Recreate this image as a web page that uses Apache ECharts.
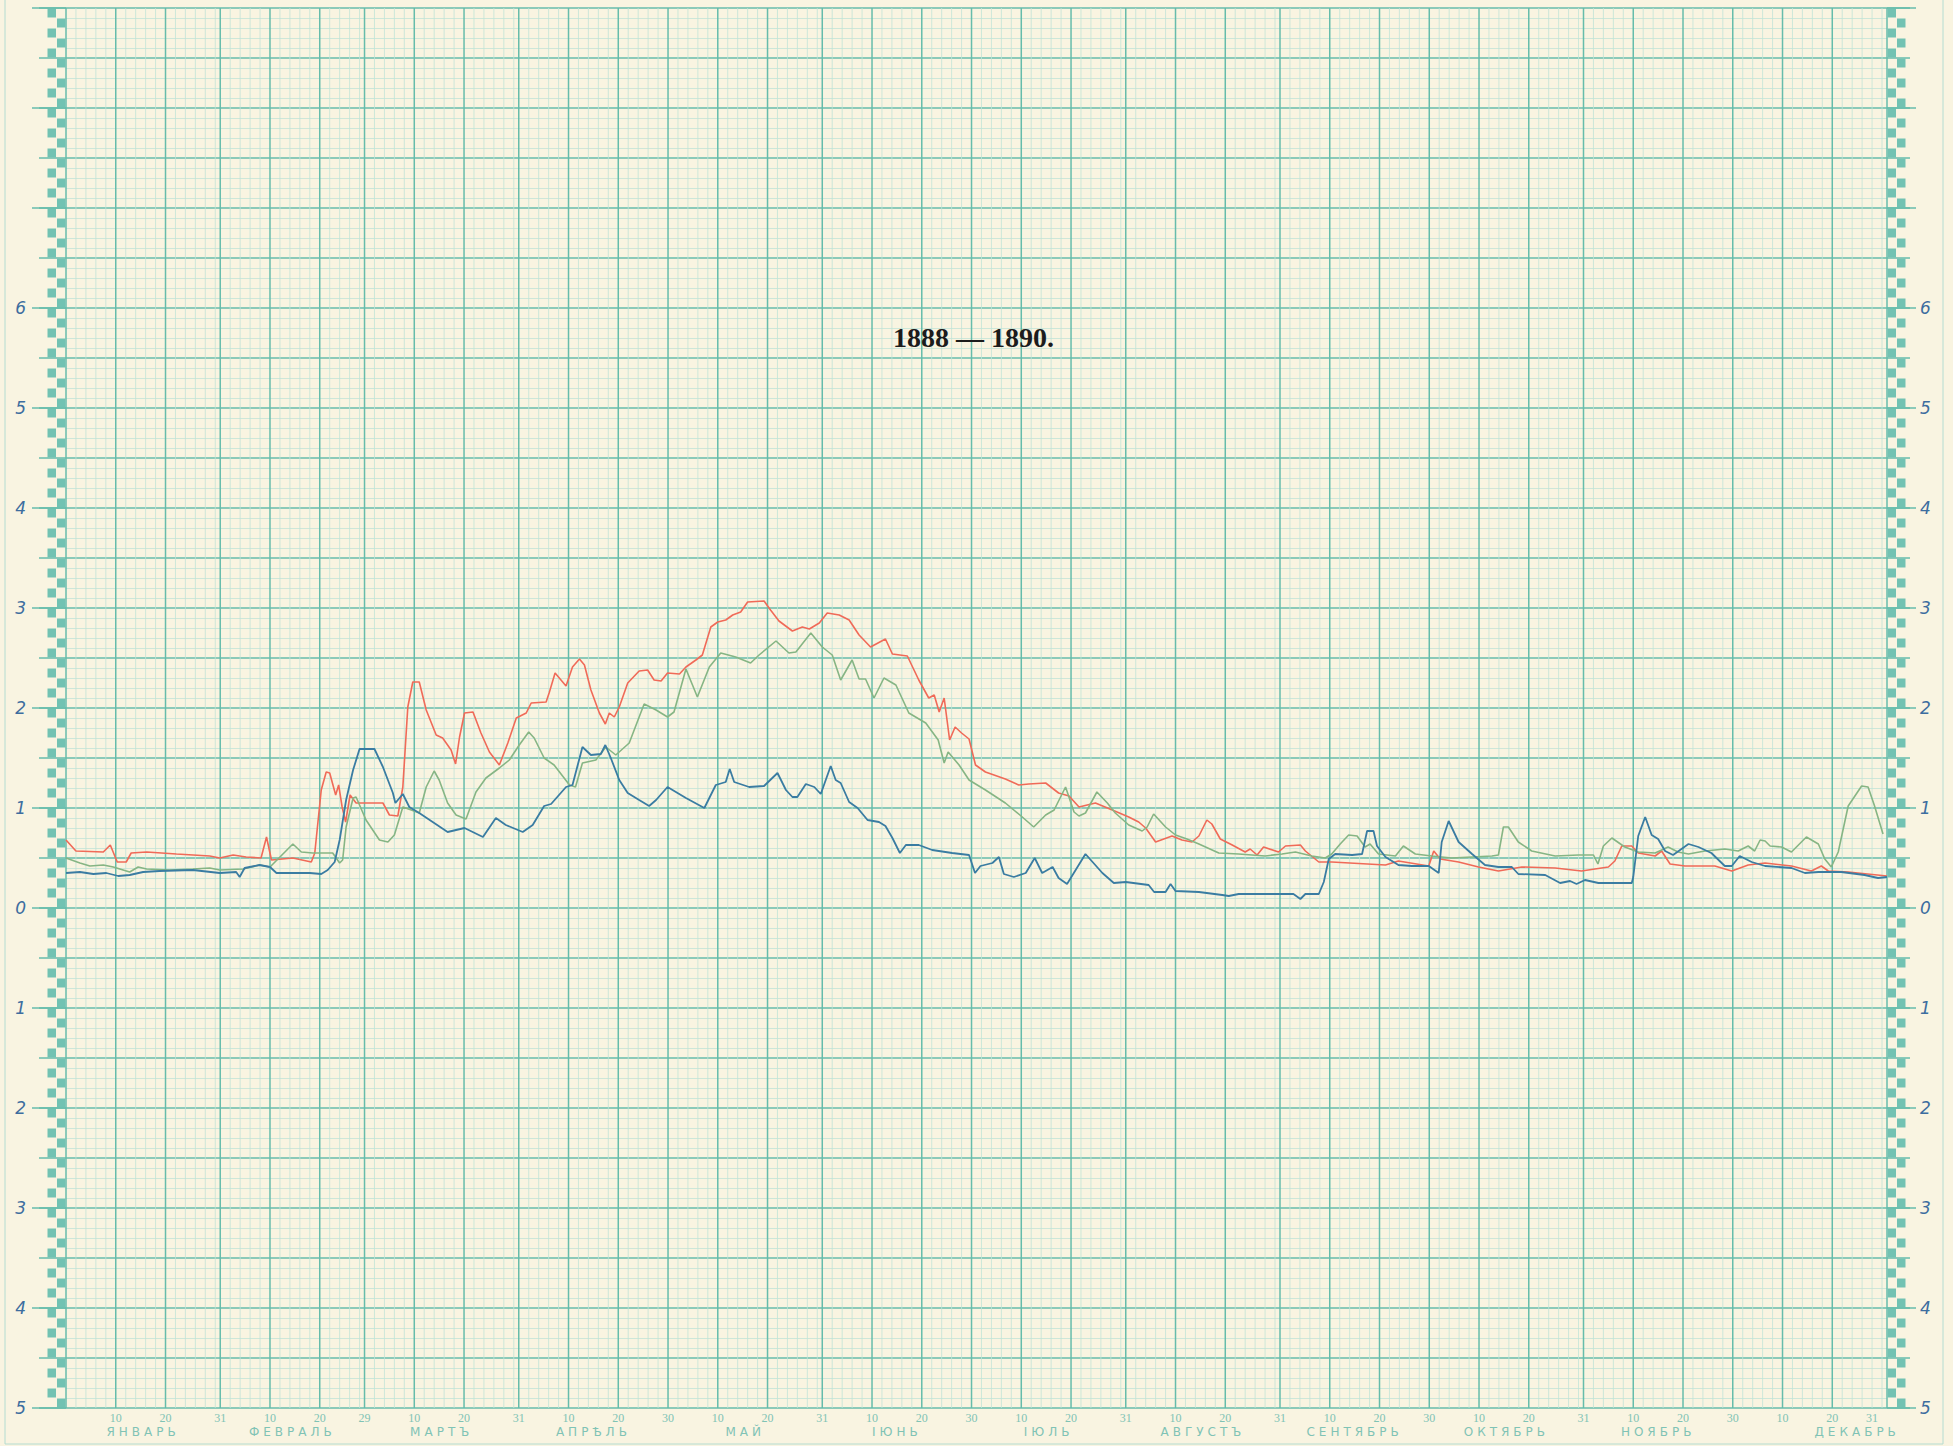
<!DOCTYPE html>
<html><head><meta charset="utf-8">
<script src="https://cdn.jsdelivr.net/npm/echarts@6/dist/echarts.min.js"></script>
<style>html,body{margin:0;padding:0;background:#f9f4e1;}#c{width:1953px;height:1446px;}</style>
</head><body><div id="c"></div>
<script>
// ---- data ----
const titleText = '1888 — 1890.';
const monthNames = ['ЯНВАРЬ','ФЕВРАЛЬ','МАРТЪ','АПРѢЛЬ','МАЙ','ІЮНЬ','ІЮЛЬ','АВГУСТЪ','СЕНТЯБРЬ','ОКТЯБРЬ','НОЯБРЬ','ДЕКАБРЬ'];
const monthLengths = [31,29,31,30,31,30,31,31,30,31,30,31];
const Y_MIN = -5, Y_MAX = 9, Y_LABEL_MAX = 6;

const redSeries = [[0,0.68],[2,0.57],[7.5,0.56],[8.9,0.63],[10.3,0.46],[12.1,0.46],[13.1,0.55],[16.2,0.56],[22.2,0.54],[28.9,0.52],[30.9,0.50],[33.6,0.53],[36.2,0.51],[39.2,0.50],[40.3,0.71],[41.3,0.48],[45.6,0.50],[49.3,0.46],[50,0.55],[51.3,1.18],[52.3,1.36],[53,1.35],[54.2,1.13],[54.8,1.23],[55.5,1.01],[56.2,0.86],[57.1,1.13],[58.3,1.05],[63.7,1.05],[65,0.93],[66.7,0.92],[67.7,1.21],[68.7,2.01],[69.7,2.26],[71,2.26],[72.4,1.98],[74.4,1.73],[75.7,1.70],[77.4,1.58],[78.3,1.44],[79.1,1.71],[80.1,1.95],[81.8,1.96],[83.4,1.75],[85.1,1.56],[87.1,1.43],[88.8,1.65],[90.5,1.90],[92.5,1.95],[93.5,2.05],[96.5,2.06],[97.1,2.15],[98.3,2.35],[100.5,2.22],[101.8,2.41],[103.2,2.49],[104.2,2.43],[105.5,2.18],[107.2,1.95],[108.4,1.84],[109.2,1.95],[110.2,1.91],[111.2,2.01],[112.9,2.25],[115.2,2.37],[116.9,2.38],[118.2,2.28],[119.6,2.27],[120.9,2.35],[123.3,2.34],[124.6,2.41],[126.6,2.48],[127.9,2.53],[129.6,2.81],[131,2.86],[132.6,2.88],[134,2.93],[135.6,2.96],[137,3.06],[140.3,3.07],[141.6,2.98],[143.3,2.87],[146,2.77],[148,2.81],[149.4,2.79],[151.4,2.85],[153,2.95],[155.4,2.93],[157.4,2.88],[159.4,2.73],[161.7,2.61],[164.7,2.69],[166.1,2.54],[169.1,2.52],[171.4,2.28],[173.4,2.10],[174.5,2.13],[175.5,1.96],[176.5,2.10],[177.6,1.68],[178.7,1.81],[180,1.75],[181.5,1.69],[182.8,1.43],[184.8,1.36],[188.8,1.29],[191.5,1.23],[193.5,1.24],[196.9,1.25],[199.5,1.15],[201.6,1.12],[203.6,1.01],[206.9,1.05],[210.3,0.98],[213.6,0.91],[215.6,0.86],[217,0.80],[219,0.66],[222.3,0.72],[224.3,0.68],[226.3,0.66],[227.7,0.72],[229.3,0.88],[230.3,0.84],[232,0.69],[234.4,0.63],[237,0.56],[238,0.59],[239.4,0.53],[240.7,0.61],[243.7,0.56],[245.1,0.62],[248.1,0.63],[249.1,0.57],[251.8,0.46],[254.4,0.46],[265.2,0.43],[267.8,0.47],[273.9,0.42],[274.9,0.57],[276.2,0.49],[279.9,0.46],[283.9,0.41],[287.9,0.37],[292.6,0.41],[299.3,0.40],[304.6,0.37],[310,0.41],[311.3,0.47],[312.7,0.62],[314.7,0.62],[316,0.55],[319.4,0.52],[320.7,0.57],[322.4,0.44],[325.4,0.42],[331.4,0.42],[334.8,0.37],[338.1,0.43],[341.5,0.45],[346.8,0.42],[350.8,0.37],[352.8,0.42],[354.2,0.37],[358.2,0.36],[366,0.32]];

const greenSeries = [[0,0.50],[2.8,0.45],[4.8,0.42],[7.5,0.43],[9.5,0.41],[12.8,0.36],[14.5,0.41],[16.2,0.39],[20.8,0.38],[25.5,0.39],[28.9,0.40],[30.9,0.38],[35.6,0.39],[38.9,0.43],[41,0.41],[43,0.51],[45.6,0.64],[47.3,0.56],[49.6,0.55],[51.6,0.55],[53.6,0.55],[55,0.45],[55.6,0.48],[56.3,0.81],[57.7,1.10],[58.3,1.11],[60.3,0.88],[63,0.68],[64.7,0.66],[66,0.73],[67.7,1.01],[69.4,0.98],[71,0.95],[72.4,1.21],[74,1.37],[75,1.28],[76.7,1.05],[78.4,0.93],[80.4,0.89],[82.4,1.16],[84.4,1.30],[87.1,1.40],[89.1,1.48],[91.1,1.63],[93,1.76],[94.1,1.70],[96.1,1.50],[98.1,1.43],[101.2,1.23],[102.4,1.21],[103.8,1.45],[106.5,1.48],[108.5,1.61],[110.5,1.53],[113.2,1.65],[116.2,2.04],[118.6,1.98],[120.9,1.91],[122.2,1.96],[124.6,2.39],[126.9,2.11],[129.3,2.41],[131.6,2.55],[134.6,2.51],[137.6,2.45],[139.3,2.53],[142.7,2.67],[145.3,2.55],[146.7,2.56],[149.7,2.75],[152,2.61],[154,2.53],[155.7,2.28],[158,2.48],[159.4,2.29],[160.7,2.29],[162.4,2.10],[164.4,2.30],[166.8,2.23],[169.4,1.95],[172.8,1.85],[175.3,1.68],[176.5,1.45],[177.3,1.56],[179.5,1.43],[181.5,1.28],[184.8,1.18],[188.8,1.05],[192.2,0.91],[194.5,0.81],[196.9,0.93],[198.6,0.98],[200.9,1.21],[202.6,0.96],[203.6,0.92],[204.9,0.95],[207.2,1.16],[209.3,1.05],[210.9,0.95],[213.6,0.83],[216.3,0.77],[217.3,0.81],[218.6,0.94],[221,0.81],[223,0.73],[225.3,0.69],[227.7,0.64],[231.7,0.55],[235.7,0.54],[241,0.52],[244.4,0.54],[247.1,0.56],[250.4,0.52],[253.1,0.50],[254.4,0.54],[256.1,0.64],[257.8,0.73],[259.5,0.72],[261.1,0.61],[262.1,0.64],[263.8,0.54],[267.2,0.52],[268.8,0.62],[271.2,0.54],[274.5,0.52],[278.5,0.50],[282.6,0.51],[286.6,0.52],[287.9,0.53],[288.9,0.81],[289.9,0.81],[291.9,0.66],[294.6,0.57],[299.3,0.52],[304,0.53],[307,0.53],[307.9,0.44],[309,0.62],[310.7,0.70],[313.3,0.61],[316,0.56],[319.4,0.55],[322,0.61],[324,0.56],[326.1,0.54],[329.4,0.57],[333.4,0.59],[336.1,0.57],[338.1,0.62],[339.4,0.57],[340.5,0.68],[341.5,0.67],[342.5,0.62],[344.8,0.61],[346.8,0.56],[349.8,0.71],[352.2,0.64],[353.5,0.49],[354.8,0.41],[356.2,0.56],[358.2,1.02],[360.9,1.22],[362.2,1.21],[363.5,1.02],[365.2,0.74]];

const blueSeries = [[0,0.35],[2.8,0.36],[5.5,0.34],[8.1,0.35],[10.5,0.32],[12.8,0.33],[15.5,0.36],[18.8,0.37],[25.5,0.38],[30.9,0.35],[34.2,0.36],[34.9,0.31],[35.9,0.40],[38.9,0.43],[41,0.41],[42.3,0.35],[45.6,0.35],[49,0.35],[51.3,0.34],[52.6,0.38],[54,0.46],[55,0.68],[56.3,1.08],[57.7,1.38],[59,1.59],[62,1.59],[63.7,1.41],[65.7,1.15],[66.2,1.05],[67.7,1.14],[69,1.01],[71,0.95],[73.7,0.86],[76.7,0.76],[80.1,0.80],[83.8,0.71],[86.4,0.90],[88.4,0.83],[91.8,0.76],[93.8,0.83],[96.1,1.02],[97.5,1.04],[100.5,1.21],[101.8,1.23],[103.8,1.61],[105.5,1.53],[107.5,1.54],[108.4,1.63],[109.5,1.50],[111.2,1.28],[112.9,1.15],[115.2,1.08],[117.2,1.02],[118.6,1.08],[120.9,1.21],[124.6,1.10],[128.3,1.00],[130.6,1.23],[132.6,1.26],[133.4,1.39],[134.3,1.26],[137.3,1.21],[140.3,1.22],[143,1.35],[144.7,1.18],[146,1.11],[147,1.11],[148.7,1.24],[150.4,1.21],[151.7,1.14],[153.7,1.42],[154.7,1.28],[155.7,1.25],[157.4,1.06],[159.1,1.00],[161.1,0.88],[163.4,0.86],[164.7,0.82],[166.1,0.70],[167.6,0.55],[168.8,0.63],[171.4,0.63],[174.1,0.58],[178.1,0.55],[181.5,0.53],[182.7,0.35],[183.8,0.42],[186.2,0.45],[187.5,0.51],[188.5,0.34],[190.5,0.31],[192.9,0.35],[194.7,0.50],[196.2,0.35],[198.3,0.41],[199.5,0.30],[201.2,0.24],[204.9,0.54],[208.3,0.35],[210.6,0.25],[213,0.26],[217.6,0.23],[218.7,0.16],[221,0.16],[222,0.24],[223,0.17],[227.7,0.16],[232.4,0.13],[233.7,0.12],[235.7,0.14],[242.4,0.14],[246.7,0.14],[248.1,0.09],[249.1,0.14],[251.8,0.14],[252.8,0.26],[253.8,0.49],[255.1,0.54],[258.5,0.53],[260.5,0.54],[261.5,0.77],[262.8,0.77],[263.5,0.62],[265.2,0.51],[267.8,0.43],[270.5,0.42],[273.9,0.42],[275.9,0.35],[276.5,0.66],[277.9,0.87],[279.9,0.66],[282.6,0.54],[285.2,0.43],[287.9,0.41],[290.6,0.41],[291.9,0.34],[297.3,0.33],[300.3,0.25],[302.3,0.27],[303.6,0.24],[305.3,0.28],[308,0.25],[314.7,0.25],[315,0.31],[316,0.72],[317.4,0.91],[318.7,0.73],[320,0.69],[321.4,0.57],[323,0.53],[326.1,0.64],[328.1,0.61],[330.7,0.55],[333.4,0.42],[334.8,0.42],[336.4,0.52],[338.8,0.46],[341.5,0.42],[346.8,0.40],[349.5,0.35],[352.2,0.36],[356.8,0.36],[361.5,0.33],[364.2,0.30],[366,0.31]];

// ---- derived axis helpers ----
const TOTAL_DAYS = monthLengths.reduce((a,b)=>a+b,0);
const monthStarts = []; { let s = 0; monthLengths.forEach(L => { monthStarts.push(s); s += L; }); }
const vLines = [];
const dayLabelPos = [], dayLabelText = {};
monthStarts.forEach((s, m) => {
  const L = monthLengths[m];
  const bounds = [0, 10, 20, L];
  for (let k = 0; k < 3; k++) {
    vLines.push([s + bounds[k], 1]);
    for (let d = bounds[k] + 2; d < bounds[k+1] - 0.5; d += 2) vLines.push([s + d, 0]);
  }
  [10, 20, L].forEach(d => {
    let p = s + d;
    if (p >= TOTAL_DAYS) p = TOTAL_DAYS - 3;
    dayLabelPos.push(p); dayLabelText[p] = String(d);
  });
});
vLines.push([TOTAL_DAYS, 1]);
const monthLabelPos = [], monthLabelText = {};
monthStarts.forEach((s, m) => {
  let p = s + monthLengths[m] / 2;
  if (m === 11) p = TOTAL_DAYS - 6;
  monthLabelPos.push(p); monthLabelText[p] = monthNames[m];
});
const checkerRows = [];
for (let i = 0; i < Math.round((Y_MAX - Y_MIN) * 10); i++) checkerRows.push([i]);

// ---- styles ----
const MAJOR = '#66bcab', MINOR = '#c2e3d7', CHECK = '#72c2b2', LABEL = '#3d6d9f', AXTXT = '#80c3b5';
const yLabelFmt = v => {
  const r = Math.round(v);
  return (Math.abs(v - r) < 1e-6 && r <= Y_LABEL_MAX) ? String(Math.abs(r)) : '';
};
const yLab = { fontFamily: 'DejaVu Sans', fontStyle: 'italic', fontWeight: 'normal', fontSize: 17, color: LABEL };

const chart = echarts.init(document.getElementById('c'), null, { renderer: 'svg', width: 1953, height: 1446 });
chart.setOption({
  backgroundColor: '#f9f4e1',
  animation: false,
  title: { text: titleText, left: 888, top: 318,
    textStyle: { fontFamily: 'Liberation Serif', fontWeight: 'bold', fontSize: 28, color: '#1c1c1c' } },
  graphic: [{ type: 'rect', shape: { x: 5, y: -2, width: 1938, height: 1446 },
    style: { fill: 'none', stroke: '#b4dcd1', lineWidth: 1 }, silent: true, z: -10 }],
  grid: { left: 66, right: 66, top: 8, bottom: 38, containLabel: false },
  xAxis: [
    { type: 'value', min: 0, max: TOTAL_DAYS, position: 'bottom',
      axisLine: { show: false }, axisTick: { show: false }, splitLine: { show: false },
      axisLabel: { customValues: dayLabelPos, formatter: v => dayLabelText[v] || '', margin: 4,
        fontFamily: 'Liberation Sans Narrow', fontSize: 12, color: AXTXT } },
    { type: 'value', min: 0, max: TOTAL_DAYS, position: 'bottom', offset: 16,
      axisLine: { show: false }, axisTick: { show: false }, splitLine: { show: false },
      axisLabel: { customValues: monthLabelPos, formatter: v => monthLabelText[v] || '', margin: 2,
        fontFamily: 'DejaVu Sans', fontSize: 12, color: AXTXT } }
  ],
  yAxis: [
    { type: 'value', min: Y_MIN, max: Y_MAX, interval: 0.5, position: 'left',
      axisLine: { show: false },
      axisTick: { show: true, length: 27, lineStyle: { color: MAJOR, width: 1.5 } },
      axisLabel: { formatter: yLabelFmt, margin: 40, showMinLabel: true, showMaxLabel: true, ...yLab },
      splitLine: { show: true, lineStyle: { color: MAJOR, width: 1.5 } },
      minorTick: { show: false, splitNumber: 5 },
      minorSplitLine: { show: true, lineStyle: { color: MINOR, width: 0.8 } } },
    { type: 'value', min: Y_MIN, max: Y_MAX, interval: 1, position: 'left', z: 5,
      axisLine: { show: false }, axisLabel: { show: false }, splitLine: { show: false },
      axisTick: { show: true, length: 34, lineStyle: { color: MAJOR, width: 1.5 } } },
    { type: 'value', min: Y_MIN, max: Y_MAX, interval: 0.5, position: 'right',
      axisLine: { show: false }, splitLine: { show: false },
      axisTick: { show: true, length: 23, lineStyle: { color: MAJOR, width: 1.5 } },
      axisLabel: { formatter: yLabelFmt, margin: 33, showMinLabel: true, showMaxLabel: true, ...yLab } },
    { type: 'value', min: Y_MIN, max: Y_MAX, interval: 1, position: 'right', z: 5,
      axisLine: { show: false }, axisLabel: { show: false }, splitLine: { show: false },
      axisTick: { show: true, length: 29, lineStyle: { color: MAJOR, width: 1.5 } } }
  ],
  series: [
    { type: 'custom', name: 'vgrid', data: vLines, silent: true, z: 1, clip: false,
      renderItem: (params, api) => {
        const x = api.value(0), major = api.value(1) === 1;
        const p1 = api.coord([x, Y_MAX]), p2 = api.coord([x, Y_MIN]);
        return { type: 'line', shape: { x1: p1[0], y1: p1[1], x2: p2[0], y2: p2[1] },
          style: { stroke: major ? MAJOR : MINOR, lineWidth: major ? 1.5 : 0.8 } };
      } },
    { type: 'custom', name: 'checker', data: checkerRows, silent: true, z: 2, clip: false,
      renderItem: (params, api) => {
        const i = api.value(0);
        const yTop = Y_MAX - i * 0.1, yBot = yTop - 0.1;
        const pT = api.coord([0, yTop]), pB = api.coord([0, yBot]);
        const L = params.coordSys.x, R = params.coordSys.x + params.coordSys.width;
        const w = 9.5, h = pB[1] - pT[1];
        const even = i % 2 === 0;
        return { type: 'group', children: [
          { type: 'rect', shape: { x: (even ? L - 2 * w : L - w) + 0.5, y: pT[1] + 0.5, width: w - 1, height: h - 1 }, style: { fill: CHECK } },
          { type: 'rect', shape: { x: (even ? R : R + w) + 0.5, y: pT[1] + 0.5, width: w - 1, height: h - 1 }, style: { fill: CHECK } }
        ] };
      } },
    { type: 'line', name: 'red', data: redSeries, showSymbol: false, z: 4,
      lineStyle: { color: '#f06a58', width: 1.6 }, itemStyle: { color: '#f06a58' } },
    { type: 'line', name: 'green', data: greenSeries, showSymbol: false, z: 4,
      lineStyle: { color: '#86b584', width: 1.6 }, itemStyle: { color: '#86b584' } },
    { type: 'line', name: 'blue', data: blueSeries, showSymbol: false, z: 5,
      lineStyle: { color: '#3a7ca2', width: 1.8 }, itemStyle: { color: '#3a7ca2' } }
  ]
});
function spaceMonths() {
  document.querySelectorAll('#c svg text').forEach(t => {
    if (monthNames.indexOf(t.textContent) >= 0) t.setAttribute('letter-spacing', '4');
  });
}
chart.on('finished', spaceMonths);
spaceMonths();
</script></body></html>
